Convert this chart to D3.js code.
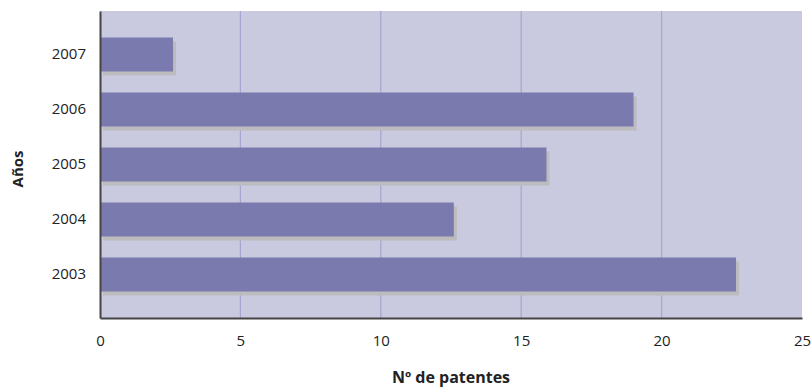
<!DOCTYPE html>
<html>
<head>
<meta charset="utf-8">
<script src="https://cdn.jsdelivr.net/npm/d3@7"></script>
<style>
  body { margin: 0; background: #fff; }
  svg { display: block; font-family: "Open Sans", "DejaVu Sans", sans-serif; }
</style>
</head>
<body>
<svg id="chart" width="812" height="388"></svg>
<script>
// Patent counts per year
const years = ["2007", "2006", "2005", "2004", "2003"];
const patents = [2.6, 19, 15.9, 12.6, 22.65];
const xTicks = [0, 5, 10, 15, 20, 25];

const FONT = "\"Open Sans\", \"DejaVu Sans\", sans-serif";
const svg = d3.select("#chart");
const margin = { top: 11, left: 100 };
const innerW = 802 - margin.left;
const innerH = 318 - margin.top;

const g = svg.append("g").attr("transform", `translate(${margin.left},${margin.top})`);

const x = d3.scaleLinear().domain([0, 25]).range([0, innerW]);
const y = d3.scaleBand().domain(years).range([0, innerH]).paddingInner(0.382).paddingOuter(0.482);

// plot background
g.append("rect").attr("width", innerW).attr("height", innerH).attr("fill", "#c9c9e0");

// vertical grid lines
g.selectAll("line.grid").data(xTicks.slice(1, -1)).join("line")
  .attr("class", "grid")
  .attr("x1", d => x(d)).attr("x2", d => x(d))
  .attr("y1", 0).attr("y2", innerH)
  .attr("stroke", "#a6a6d0").attr("stroke-width", 1.2);

const rows = years.map((yr, i) => ({ yr, v: patents[i] }));

// bar shadows
g.selectAll("rect.shadow").data(rows).join("rect")
  .attr("class", "shadow")
  .attr("x", 3).attr("y", d => y(d.yr) + 4)
  .attr("width", d => x(d.v)).attr("height", y.bandwidth())
  .attr("fill", "#bcbcbf");

// bars
g.selectAll("rect.bar").data(rows).join("rect")
  .attr("class", "bar")
  .attr("x", 0).attr("y", d => y(d.yr))
  .attr("width", d => x(d.v)).attr("height", y.bandwidth())
  .attr("fill", "#7a7aae");

// axes
const xAxis = g.append("g").attr("transform", `translate(0,${innerH})`)
  .call(d3.axisBottom(x).tickValues(xTicks).tickSize(0).tickPadding(17));
xAxis.select(".domain").attr("stroke", "#444").attr("stroke-width", 2);
xAxis.selectAll("text").attr("font-size", 15).attr("fill", "#222").attr("font-family", FONT);

const yAxis = g.append("g")
  .call(d3.axisLeft(y).tickSize(0).tickPadding(14));
yAxis.select(".domain").attr("stroke", "#444").attr("stroke-width", 2);
yAxis.selectAll("text").attr("font-size", 15).attr("fill", "#222").attr("font-family", FONT);

// axis titles
svg.append("text")
  .attr("x", margin.left + innerW / 2).attr("y", 383)
  .attr("text-anchor", "middle")
  .attr("font-size", 16).attr("font-weight", "bold").attr("fill", "#222")
  .text("Nº de patentes");

svg.append("text")
  .attr("transform", `translate(23,169) rotate(-90)`)
  .attr("text-anchor", "middle")
  .attr("font-size", 15).attr("font-weight", "bold").attr("fill", "#222")
  .text("Años");
</script>
</body>
</html>
